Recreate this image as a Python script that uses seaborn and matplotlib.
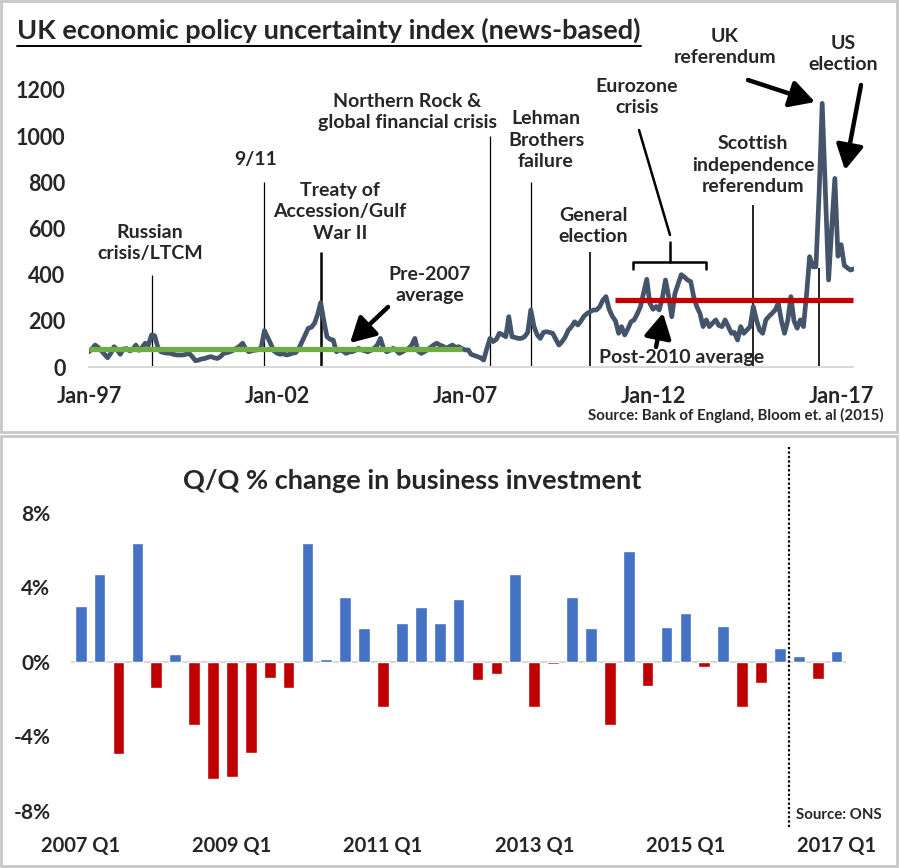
import numpy as np
import pandas as pd
import matplotlib
matplotlib.use('Agg')
import matplotlib.pyplot as plt
from matplotlib.patches import Rectangle, FancyArrowPatch
from matplotlib.lines import Line2D
import seaborn as sns

W, H = 900, 868

# UK economic policy uncertainty index, monthly Jan-97 .. May-17
epu_1997_2001 = [66, 80, 95, 85, 70, 55, 40, 60, 88, 75, 55, 78,
                 80, 70, 75, 95, 72, 85, 103, 95, 139, 135, 85, 66,
                 62, 60, 59, 55, 52, 52, 52, 55, 59, 45, 27, 30,
                 35, 37, 42, 45, 40, 37, 45, 59, 62, 66, 72, 81,
                 90, 103, 80, 66, 70, 73, 75, 85, 158, 130, 100, 70]
epu_2002_2006 = [60, 55, 58, 52, 55, 60, 62, 80, 110, 140, 168, 172,
                 190, 230, 279, 200, 131, 120, 117, 66, 74, 70, 59, 65,
                 66, 72, 81, 75, 70, 66, 72, 81, 95, 124, 80, 66,
                 72, 81, 74, 59, 65, 74, 80, 95, 124, 70, 59, 66,
                 74, 85, 95, 103, 95, 90, 81, 88, 95, 85, 88, 80]
epu_2007_2011 = [74, 74, 55, 50, 45, 40, 30, 80, 124, 110, 120, 146,
                 140, 131, 218, 131, 128, 124, 124, 131, 150, 247, 175, 140,
                 124, 150, 153, 150, 146, 120, 95, 110, 131, 160, 175, 196,
                 182, 200, 220, 232, 240, 247, 247, 261, 290, 305, 250, 220,
                 200, 146, 175, 139, 165, 196, 204, 230, 262, 320, 380, 276]
epu_2012_2017 = [250, 262, 247, 300, 377, 305, 218, 319, 360, 400, 390, 377,
                 370, 300, 262, 232, 175, 204, 175, 190, 204, 180, 175, 204,
                 175, 146, 150, 117, 175, 146, 160, 175, 262, 204, 160, 146,
                 204, 220, 232, 247, 276, 200, 146, 200, 305, 200, 168, 204,
                 175, 319, 478, 434, 434, 750, 1142, 760, 377, 600, 817, 480,
                 530, 440, 430, 420, 425]
epu = epu_1997_2001 + epu_2002_2006 + epu_2007_2011 + epu_2012_2017
pre2007_avg = 80
post2010_avg = 290

# event markers: (date, height of line, line width)
event_dates = ['1998-09', '2001-09', '2003-03', '2007-09', '2008-10', '2010-05', '2014-09', '2016-06']
event_tops = [400, 800, 500, 1000, 800, 500, 700, 430]
event_lw = [0.9, 0.9, 1.8, 0.9, 0.9, 1.2, 1.2, 1.2]

year_ticks = ['1997-01', '2002-01', '2007-01', '2012-01', '2017-01']
year_labels = ['Jan-97', 'Jan-02', 'Jan-07', 'Jan-12', 'Jan-17']

# business investment, Q/Q % change, 2007 Q1 .. 2017 Q1
quarters = [f'{y} Q{q}' for y in range(2007, 2018) for q in range(1, 5)][:41]
inv_change = [3.0, 4.7, -4.95, 6.36, -1.41, 0.41, -3.39, -6.27,
              -6.16, -4.88, -0.86, -1.41, 6.36, 0.14, 3.46, 1.80,
              -2.41, 2.07, 2.93, 2.07, 3.36, -0.96, -0.64, 4.70,
              -2.41, -0.10, 3.46, 1.80, -3.39, 5.93, -1.29, 1.86,
              2.61, -0.29, 1.93, -2.41, -1.14, 0.73, 0.30, -0.91, 0.57]

sns.set_style('white')
plt.rcParams['font.family'] = ['Lato', 'DejaVu Sans']
plt.rcParams['font.weight'] = 'bold'

fig = plt.figure(figsize=(W / 100, H / 100), dpi=100)


def fx(x):
    return x / W


def fy(y):
    return 1 - y / H


def label(x, y, s, size=14, **kw):
    fig.text(fx(x), fy(y), s, ha=kw.pop('ha', 'center'), va='center', fontsize=size,
             fontweight='bold', linespacing=1.32, **kw)


def arrow(x0, y0, x1, y1):
    fig.add_artist(FancyArrowPatch(
        (fx(x0), fy(y0)), (fx(x1), fy(y1)), transform=fig.transFigure,
        arrowstyle='-|>,head_length=1.0,head_width=0.55', mutation_scale=15,
        lw=3.2, color='black', shrinkA=0, shrinkB=0))


def seg(xs, ys, lw=1.8):
    fig.add_artist(Line2D([fx(v) for v in xs], [fy(v) for v in ys], color='black', lw=lw,
                          transform=fig.transFigure))


# panel frames
for y0, y1 in [(1, 432), (436, 866)]:
    fig.add_artist(Rectangle((fx(1), fy(y1)), 896 / W, (y1 - y0) / H, transform=fig.transFigure,
                             fill=False, edgecolor='#c8c8c8', lw=2))

# ---------------- top panel ----------------
ax = fig.add_axes([fx(89), fy(367), (853.5 - 89) / W, (367 - 90) / H])
dates = pd.date_range('1997-01-01', periods=len(epu), freq='MS')
df = pd.DataFrame({'date': dates, 'epu': epu})
sns.lineplot(data=df, x='date', y='epu', ax=ax, color='#44546A', lw=3.4,
             solid_joinstyle='round')
ax.hlines(pre2007_avg, dates[0], pd.Timestamp('2006-12-01'), color='#70AD47', lw=3.8, zorder=5)
ax.hlines(post2010_avg, pd.Timestamp('2011-01-01'), dates[-1], color='#C00000', lw=3.8, zorder=5)
ax.vlines(pd.to_datetime(event_dates), 0, event_tops, colors='black', lw=event_lw, zorder=1)

ax.set_xlim(dates[0], dates[-1])
ax.set_ylim(0, 1200)
ax.set_yticks(range(0, 1201, 200))
ax.set_xticks(pd.to_datetime(year_ticks))
ax.set_xticklabels(year_labels)
ax.set_xlabel('')
ax.set_ylabel('')
ax.tick_params(axis='y', length=0, pad=17, labelsize=15.5)
ax.tick_params(axis='x', length=6, width=1.5, color='#d9d9d9', pad=8, labelsize=15.5, direction='out')
for s in ['top', 'right', 'left']:
    ax.spines[s].set_visible(False)
ax.spines['bottom'].set_color('#d9d9d9')
ax.spines['bottom'].set_linewidth(1.5)

t = fig.text(fx(17), fy(30), 'UK economic policy uncertainty index (news-based)', ha='left',
             va='center', fontsize=19.5, fontweight='bold')
fig.canvas.draw()
bb = t.get_window_extent()
fig.add_artist(Line2D([bb.x0 / W, bb.x1 / W], [fy(46), fy(46)], color='black', lw=1.4,
                      transform=fig.transFigure))

label(150, 243, 'Russian\ncrisis/LTCM')
label(256, 159, '9/11')
label(340, 212, 'Treaty of\nAccession/Gulf\nWar II')
label(430, 285, 'Pre-2007\naverage')
arrow(388, 307, 350, 343)
label(407, 112, 'Northern Rock &\nglobal financial crisis')
label(546, 140, 'Lehman\nBrothers\nfailure')
label(593, 226, 'General\nelection')
label(637, 97, 'Eurozone\ncrisis')
seg([639, 670], [130, 235])
seg([670, 670], [242, 262])
seg([633, 633, 706, 706], [269, 262, 262, 269])
label(682, 357, 'Post-2010 average')
arrow(656, 347, 663, 313)
label(753, 165, 'Scottish\nindependence\nreferendum')
label(725, 47, 'UK\nreferendum')
arrow(748, 80, 815, 102)
label(843, 54, 'US\nelection')
arrow(861, 85, 845, 170)
label(884, 415, 'Source: Bank of England, Bloom et. al (2015)', size=10.8, ha='right')

# ---------------- bottom panel ----------------
ax2 = fig.add_axes([fx(71.25), fy(811), (846 - 71.25) / W, (811 - 512.7) / H])
bdf = pd.DataFrame({'quarter': quarters, 'change': inv_change})
bdf['sign'] = np.where(bdf['change'] >= 0, 'up', 'down')
sns.barplot(data=bdf, x='quarter', y='change', hue='sign', palette={'up': '#4472C4', 'down': '#C00000'},
            dodge=False, legend=False, width=0.62, saturation=1, ax=ax2)
ax2.axhline(0, color='#d9d9d9', lw=1.5, zorder=0)
ax2.set_xlim(-0.5, len(quarters) - 0.5)
ax2.set_ylim(-8, 8)
ax2.set_yticks([-8, -4, 0, 4, 8])
ax2.set_yticklabels([f'{v}%' for v in [-8, -4, 0, 4, 8]])
ax2.set_xticks(range(0, len(quarters), 8))
ax2.set_xticklabels(quarters[::8])
ax2.set_xlabel('')
ax2.set_ylabel('')
ax2.tick_params(axis='both', length=0, labelsize=15)
ax2.tick_params(axis='x', labelsize=14.5, pad=18)
ax2.tick_params(axis='y', pad=15)
for s in ax2.spines.values():
    s.set_visible(False)
ax2.axvline(37.5, ymin=-0.054, ymax=1.227, color='black', lw=1.6, ls=(0, (1, 1)), clip_on=False)

label(412, 481, 'Q/Q % change in business investment', size=19.5)
label(796, 815, 'Source: ONS', size=10.8, ha='left')

fig.savefig('out.png', dpi=100)
